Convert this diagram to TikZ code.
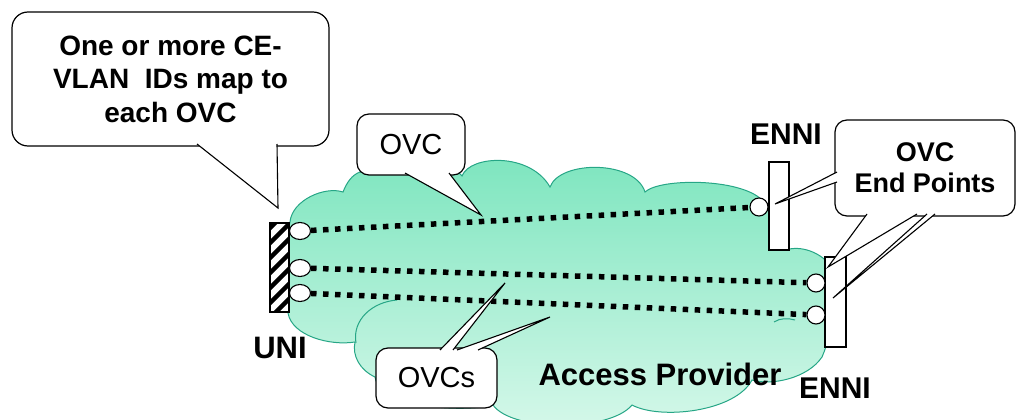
\documentclass[tikz,border=0pt]{standalone}
\usepackage{fontspec}
\setmainfont{Liberation Sans}
\usetikzlibrary{shapes.geometric}

\definecolor{cloudtop}{RGB}{124,229,190}
\definecolor{cloudbot}{RGB}{214,248,234}
\definecolor{cloudline}{RGB}{38,166,134}

\tikzset{
  bar/.style={draw, fill=white, line width=1.2pt, inner sep=0pt},
  uniport/.style={draw, fill=white, ellipse, line width=1.1pt, minimum width=21pt, minimum height=17pt, inner sep=0pt},
  enniport/.style={draw, fill=white, circle, line width=1.1pt, minimum size=18pt, inner sep=0pt},
  ovcline/.style={line width=5.5pt, dash pattern=on 5.5pt off 6.5pt},
  callout/.style={draw, fill=white, line width=1.2pt, rounded corners=12pt, align=center, inner sep=0pt},
  wedge/.style={line width=1.1pt, line join=miter},
  label/.style={font=\bfseries\fontsize{31}{31}\selectfont, inner sep=0pt}
}

\begin{document}
\begin{tikzpicture}[x=1pt, y=-1pt]
  \useasboundingbox (0,0) rectangle (1018,420);

  \newcommand\Wedge[3]{% base point, tip, base point
    \fill[white] #1 -- #2 -- #3 -- cycle;
    \draw[wedge] #1 -- #2 -- #3;}

  %% cloud
  \draw[cloudline, line width=1pt, top color=cloudtop, bottom color=cloudbot]
    (290,222) .. controls (292,200) and (325,186) .. (343,192)
    .. controls (347,182) and (352,175) .. (360,172)
    -- (456,172) .. controls (459,173) and (461,174) .. (462,176)
    .. controls (470,155) and (530,152) .. (550,187)
    .. controls (560,160) and (635,160) .. (645,192)
    .. controls (660,178) and (740,178) .. (762,200)
    .. controls (775,215) and (780,240) .. (786,250)
    .. controls (800,245) and (822,252) .. (832,268)
    .. controls (836,290) and (834,330) .. (822,357)
    .. controls (808,378) and (772,386) .. (752,380)
    .. controls (735,412) and (660,420) .. (632,405)
    .. controls (610,432) and (512,432) .. (493,405)
    .. controls (470,412) and (380,410) .. (375,377)
    .. controls (360,370) and (352,356) .. (355,342)
    .. controls (330,346) and (292,336) .. (288,313)
    -- (286,240) -- cycle;
  \draw[cloudline, line width=1pt] (356,343) .. controls (352,320) and (372,302) .. (397,300);
  \draw[cloudline, line width=1pt] (774,322) .. controls (780,318) and (788,318) .. (795,320);

  %% UNI and ENNI bars
  \node[bar, minimum width=19pt, minimum height=89pt] (uni) at (279.5,267.5) {};
  \begin{scope}
    \clip (270,223) rectangle (289,312);
    \foreach \k in {0,...,9}
      \draw[line width=4.5pt] (255,228+\k*15) -- ++(45,-45);
  \end{scope}
  \draw[line width=1.2pt] (uni.south west) rectangle (uni.north east);
  \node[bar, minimum width=20pt, minimum height=88pt] (enniA) at (779,206) {};
  \node[bar, minimum width=21pt, minimum height=90pt] (enniB) at (835.5,302) {};

  \node[label] at (280,348) {UNI};
  \node[label, font=\bfseries\fontsize{30}{30}\selectfont] at (786,134) {ENNI};
  \node[label, font=\bfseries\fontsize{30}{30}\selectfont] at (835,388) {ENNI};
  \node[label] at (660,374) {Access Provider};

  %% OVC end points
  \node[uniport] (u1) at (300,231) {};
  \node[uniport] (u2) at (300,268) {};
  \node[uniport] (u3) at (300,293) {};
  \node[enniport] (e1) at (759,207) {};
  \node[enniport] (e2) at (816,283) {};
  \node[enniport] (e3) at (816,315) {};

  \draw[ovcline] (u1) -- (e1); %% UNI->ENNI
  \draw[ovcline] (u2) -- (e2);
  \draw[ovcline] (u3) -- (e3);

  %% callouts
  \node[callout, rounded corners=16pt, minimum width=317pt, minimum height=134pt,
        font=\bfseries\fontsize{28}{33.5}\selectfont] (ce) at (170.5,79)
        {One or more CE-\\VLAN\ \ IDs map to\\each OVC};
  \Wedge{(197,144)}{(278,208)}{(277,144)}

  \node[callout, minimum width=108pt, minimum height=61pt,
        font=\fontsize{29}{29}\selectfont] (ovc) at (411,144.5) {OVC};
  \Wedge{(405,173)}{(481,215)}{(449,173)}

  \node[callout, minimum width=121pt, minimum height=60pt,
        font=\fontsize{29}{29}\selectfont] (ovcs) at (436.5,378) {OVCs};
  \Wedge{(440,350)}{(505,283)}{(453,350)}
  \Wedge{(457,350)}{(550,317)}{(478,350)}

  \node[callout, minimum width=180pt, minimum height=96pt,
        font=\bfseries\fontsize{27}{31}\selectfont] (ep) at (925,168) {OVC\\End Points};
  \Wedge{(837,172)}{(775,204)}{(837,182)}
  \Wedge{(867,214)}{(828,267)}{(917,214)}
  \Wedge{(927,214)}{(833,298)}{(935,214)}
\end{tikzpicture}
\end{document}
